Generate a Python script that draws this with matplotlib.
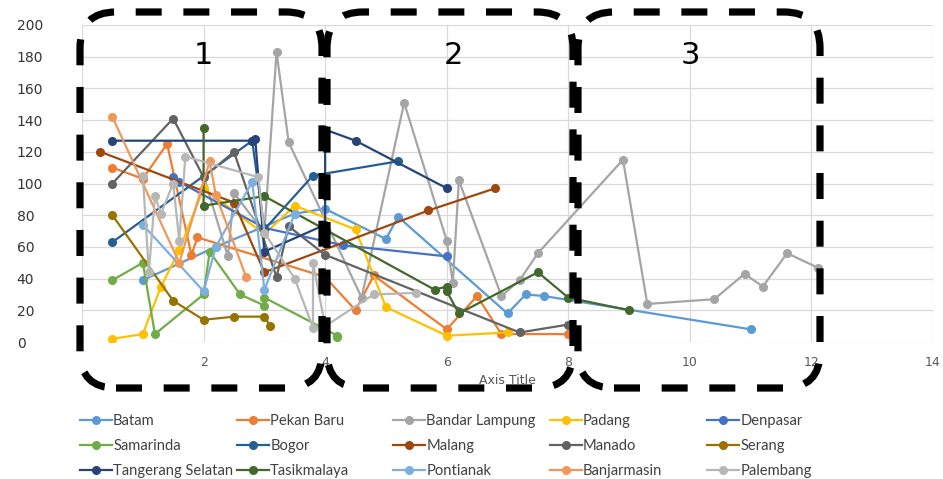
import matplotlib
matplotlib.use("Agg")
import matplotlib.pyplot as plt
from matplotlib.patches import FancyBboxPatch
from matplotlib.transforms import IdentityTransform

# ---------------- data ----------------
series_names = ["Batam", "Pekan Baru", "Bandar Lampung", "Padang", "Denpasar",
                "Samarinda", "Bogor", "Malang", "Manado", "Serang",
                "Tangerang Selatan", "Tasikmalaya", "Pontianak", "Banjarmasin", "Palembang"]

batam_x = [1.0, 2.2, 3.5, 4.0, 5.0, 5.2, 7.0, 7.3, 7.6, 11.0]
batam_y = [39, 60, 81, 84, 65, 79, 18, 30, 29, 8]

pekanbaru_x = [0.5, 1.0, 1.4, 1.8, 1.9, 4.0, 4.5, 4.8, 6.0, 6.5, 6.9, 8.0]
pekanbaru_y = [110, 103, 125, 55, 66, 41, 20, 42, 8, 29, 5, 5]

bandarlampung_x = [2.0, 2.4, 2.5, 3.0, 3.2, 3.4, 4.6, 5.3, 6.0, 6.1, 6.2, 6.9, 7.2, 7.5,
                   8.9, 9.3, 10.4, 10.9, 11.2, 11.6, 12.1]
bandarlampung_y = [105, 54, 94, 69, 183, 126, 28, 151, 64, 37, 102, 29, 39, 56,
                   115, 24, 27, 43, 35, 56, 47]

padang_x = [0.5, 1.0, 1.3, 1.6, 2.0, 3.0, 3.5, 4.5, 5.0, 6.0, 7.0]
padang_y = [2, 5, 35, 58, 97, 68, 86, 71, 22, 4, 6]

denpasar_x = [1.5, 1.6, 3.0, 4.3, 6.0]
denpasar_y = [104, 101, 72, 61, 54]

samarinda_x = [0.5, 1.0, 1.2, 2.0, 2.1, 2.6, 3.0, 3.0, 4.2, 4.2]
samarinda_y = [39, 50, 5, 30, 57, 30, 23, 28, 4, 3]

bogor_x = [0.5, 2.8, 3.0, 3.8, 5.2]
bogor_y = [63, 127, 71, 105, 114]

malang_x = [0.3, 2.5, 3.0, 5.7, 6.8]
malang_y = [120, 88, 44, 83, 97]

manado_x = [0.5, 1.5, 2.0, 2.5, 3.2, 3.4, 4.0, 7.2, 8.0]
manado_y = [100, 141, 104, 120, 41, 73, 55, 6, 11]

serang_x = [0.5, 1.5, 2.0, 2.5, 3.0, 3.1]
serang_y = [80, 26, 14, 16, 16, 10]

tangerang_x = [0.5, 2.8, 2.85, 3.0, 4.0, 4.0, 4.5, 6.0]
tangerang_y = [127, 127, 128, 57, 74, 134, 127, 97]

tasikmalaya_x = [2.0, 2.0, 3.0, 5.8, 6.0, 6.0, 6.2, 7.5, 8.0, 9.0]
tasikmalaya_y = [135, 86, 92, 33, 35, 32, 18, 44, 28, 20]

pontianak_x = [1.0, 2.0, 2.2, 2.8, 3.0, 3.5]
pontianak_y = [74, 32, 60, 101, 33, 81]

banjarmasin_x = [0.5, 1.6, 2.1, 2.2, 2.7]
banjarmasin_y = [142, 50, 114, 93, 41]

palembang_x = [1.0, 1.1, 1.2, 1.3, 1.5, 1.6, 1.7, 2.9, 3.0, 3.5, 3.8, 3.8, 4.0, 4.8, 5.5]
palembang_y = [105, 44, 92, 81, 100, 64, 117, 104, 69, 40, 9, 50, 10, 30, 31]

series_x = [batam_x, pekanbaru_x, bandarlampung_x, padang_x, denpasar_x,
            samarinda_x, bogor_x, malang_x, manado_x, serang_x,
            tangerang_x, tasikmalaya_x, pontianak_x, banjarmasin_x, palembang_x]
series_y = [batam_y, pekanbaru_y, bandarlampung_y, padang_y, denpasar_y,
            samarinda_y, bogor_y, malang_y, manado_y, serang_y,
            tangerang_y, tasikmalaya_y, pontianak_y, banjarmasin_y, palembang_y]

colors = ["#5B9BD5", "#ED7D31", "#A5A5A5", "#FFC000", "#4472C4",
          "#70AD47", "#255E91", "#9E480E", "#636363", "#997300",
          "#264478", "#43682B", "#7CAFDD", "#F1975A", "#B7B7B7"]

x_ticks = [0, 2, 4, 6, 8, 10, 12, 14]
y_ticks = [0, 20, 40, 60, 80, 100, 120, 140, 160, 180, 200]
x_title = "Axis Title"
box_labels = ["1", "2", "3"]

# ---------------- figure ----------------
W, H = 943, 479
fig = plt.figure(figsize=(W / 100, H / 100), dpi=100)
fig.patch.set_facecolor("white")
ax = fig.add_axes([82 / W, 1 - 342 / H, (933 - 82) / W, (342 - 25) / H])

handles = []
for name, xs, ys, c in zip(series_names, series_x, series_y, colors):
    h, = ax.plot(xs, ys, color=c, lw=1.6, marker="o", ms=5.5, mec=c, mfc=c,
                 label=name, solid_joinstyle="round")
    handles.append(h)

ax.set_xlim(0, 14)
ax.set_ylim(0, 200)
ax.set_xticks(x_ticks)
ax.set_yticks(y_ticks)
ax.grid(True, color="#D9D9D9", lw=0.9)
ax.set_axisbelow(True)
for s in ax.spines.values():
    s.set_visible(False)
ax.tick_params(axis="both", length=0)
ax.tick_params(axis="x", labelsize=9, labelcolor="#595959", pad=10)
ax.tick_params(axis="y", labelsize=10, labelcolor="#333333", pad=47)
for lab in ax.get_yticklabels():
    lab.set_horizontalalignment("left")
ax.get_xticklabels()[0].set_visible(False)
ax.set_xlabel(x_title, fontsize=9, color="#595959", labelpad=4)

# ---------------- legend (5 columns) ----------------
col_x = [80, 237, 393, 550, 707]
for c in range(5):
    idx = [c, c + 5, c + 10]
    leg = fig.legend([handles[i] for i in idx], [series_names[i] for i in idx],
                     loc="upper left", bbox_to_anchor=(col_x[c] / W, 1 - 414 / H),
                     frameon=False, ncol=1, handlelength=2.2, handletextpad=0.05,
                     labelspacing=0.75, borderpad=0, borderaxespad=0,
                     prop={"family": "Lato", "size": 10.6})
    for t in leg.get_texts():
        t.set_color("#404040")

# ---------------- dashed rounded boxes ----------------
boxes = [(80, 12, 322, 388), (327, 12, 573, 388), (578, 12, 820, 388)]
for (x0, y0, x1, y1) in boxes:
    p = FancyBboxPatch((x0, H - y1), x1 - x0, y1 - y0,
                       boxstyle="round,pad=0,rounding_size=36",
                       transform=IdentityTransform(), fill=False,
                       edgecolor="black", lw=5.2, linestyle=(0, (3.6, 3.0)),
                       capstyle="butt", zorder=20)
    fig.add_artist(p)

label_pos = [(203, 55), (453, 55), (690, 55)]
for lbl, (px, py) in zip(box_labels, label_pos):
    fig.text(px / W, 1 - py / H, lbl, fontsize=22, ha="center", va="center",
             color="black", family="DejaVu Sans", zorder=21)

fig.savefig("out.png", dpi=100)
